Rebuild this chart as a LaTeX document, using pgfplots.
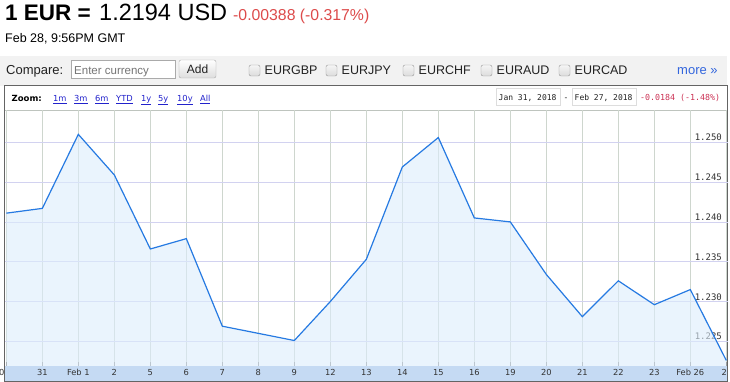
\documentclass[border=0pt]{standalone}
\usepackage{pgfplots}
\usepackage{pgfplotstable}
\pgfplotsset{compat=1.18}
\usepackage{fontspec}
\setmainfont{Liberation Sans}
\newfontfamily\dv{DejaVu Sans}
\newfontfamily\dvm{DejaVu Sans Mono}
\definecolor{redtxt}{RGB}{221,75,75}
\definecolor{crim}{RGB}{204,51,85}
\definecolor{linkblue}{RGB}{34,34,204}
\definecolor{moreblue}{RGB}{51,102,221}
\definecolor{barbg}{RGB}{242,242,242}
\definecolor{bandc}{RGB}{197,218,243}
\definecolor{fillc}{RGB}{220,237,252}
\definecolor{linec}{RGB}{38,122,226}
\definecolor{vgrid}{RGB}{206,214,206}
\definecolor{hgrid}{RGB}{210,210,240}
\definecolor{txt}{RGB}{34,34,34}
\pgfplotstableread{
x y
0 1.2411
1 1.2417
2 1.2510
3 1.2459
4 1.2366
5 1.2379
6 1.2269
7 1.2260
8 1.2251
9 1.2300
10 1.2353
11 1.2469
12 1.2506
13 1.2405
14 1.2400
15 1.2334
16 1.2281
17 1.2326
18 1.2296
19 1.2315
20 1.2226
}\eurusd
\begin{document}
\begin{tikzpicture}[x=1pt,y=1pt]
\useasboundingbox (0,0) rectangle (730,382);
\fill[white] (0,0) rectangle (730,382);
% header
\node[anchor=base west,inner sep=0,font=\fontsize{22.5}{22.5}\selectfont\bfseries] at (5,361) {1 EUR =};
\node[anchor=base west,inner sep=0,font=\fontsize{23.5}{23.5}\selectfont] at (99,361) {1.2194 USD};
\node[anchor=base west,inner sep=0,font=\fontsize{15.8}{15.8}\selectfont,text=redtxt] at (233,361) {-0.00388 (-0.317\%)};
\node[anchor=base west,inner sep=0,font=\fontsize{12.5}{12.5}\selectfont] at (5,339) {Feb 28, 9:56PM GMT};
% compare bar
\fill[barbg] (0,296) rectangle (727,326);
\node[anchor=base west,inner sep=0,font=\fontsize{13}{13}\selectfont,text=txt] at (6,307) {Compare:};
\draw[fill=white,draw={rgb,255:red,170;green,170;blue,170}] (71.5,303.5) rectangle (175,322);
\node[anchor=base west,inner sep=0,font=\fontsize{11.5}{11.5}\selectfont,text={rgb,255:red,117;green,117;blue,117}] at (74,307.5) {Enter currency};
\shade[top color=white,bottom color={rgb,255:red,221;green,221;blue,221},rounded corners=2pt] (179,304) rectangle (216,322);
\draw[draw={rgb,255:red,170;green,170;blue,170},rounded corners=2pt] (179,304) rectangle (216,322);
\node[anchor=base,inner sep=0,font=\fontsize{12}{12}\selectfont,text=txt] at (197.5,308) {Add};
\foreach \cx/\lab in {249/EURGBP,326/EURJPY,403/EURCHF,481/EURAUD,559/EURCAD}{
  \shade[top color={rgb,255:red,245;green,245;blue,245},bottom color={rgb,255:red,220;green,220;blue,220},rounded corners=2pt] (\cx,306) rectangle (\cx+11,317);
  \draw[draw={rgb,255:red,150;green,150;blue,150},rounded corners=2pt] (\cx,306) rectangle (\cx+11,317);
  \node[anchor=base west,inner sep=0,font=\fontsize{12.5}{12.5}\selectfont,text=txt] at (\cx+15.5,307.5) {\lab};
}
\node[anchor=base west,inner sep=0,font=\fontsize{13}{13}\selectfont,text=moreblue] at (677,307.5) {more »};
% frame
\draw[line width=1pt,draw={rgb,255:red,100;green,100;blue,100}] (4,0.5) rectangle (727.5,296);
% zoom bar
\node[anchor=base west,inner sep=0,font=\dv\bfseries\fontsize{8.5}{8.5}\selectfont,text=black] at (11.5,280.5) {Zoom:};
\foreach \zx/\zl in {53/1m,74/3m,95/6m,116/YTD,141/1y,158/5y,177/10y,200/All}{
  \node[anchor=base west,inner sep=0,font=\dv\fontsize{8.3}{8.3}\selectfont,text=linkblue] at (\zx,280.5) {\underline{\zl}};
}
\draw[draw={rgb,255:red,221;green,221;blue,221}] (496,277) rectangle (560,293.5);
\draw[draw={rgb,255:red,221;green,221;blue,221}] (572,277) rectangle (636,293.5);
\node[anchor=base west,inner sep=0,font=\dvm\fontsize{8}{8}\selectfont,text=txt] at (498.5,281) {Jan 31, 2018};
\node[anchor=base west,inner sep=0,font=\dvm\fontsize{8}{8}\selectfont,text=txt] at (563.5,281) {-};
\node[anchor=base west,inner sep=0,font=\dvm\fontsize{8}{8}\selectfont,text=txt] at (574.5,281) {Feb 27, 2018};
\node[anchor=base west,inner sep=0,font=\dvm\fontsize{8.3}{8.3}\selectfont,text=crim] at (640,281) {-0.0184 (-1.48\%)};
% band
\fill[bandc] (4.5,1) rectangle (727,16);
\draw[draw={rgb,255:red,190;green,196;blue,190}] (4.5,272) -- (727,272);
\begin{axis}[
  at={(4.9pt,16pt)}, anchor=south west,
  scale only axis, width=723.2pt, height=256pt,
  xmin=-0.04, xmax=20.05, ymin=1.2219, ymax=1.25406,
  axis line style={draw=none},
  xtick={0,...,20},
  xticklabels={\makebox[0pt]{\hspace*{-9pt}0},31,Feb 1,2,5,6,7,8,9,12,13,14,15,16,19,20,21,22,23,Feb 26,\makebox[0pt]{\hspace*{-4pt}2}},
  ytick={1.225,1.230,1.235,1.240,1.245,1.250},
  yticklabels={1.225,1.230,1.235,1.240,1.245,1.250},
  grid=major,
  x grid style={vgrid, line width=0.8pt},
  y grid style={hgrid, line width=0.8pt},
  tick align=inside, xtick pos=bottom, ytick pos=right,
  major tick length=4pt,
  xtick style={draw={rgb,255:red,140;green,140;blue,140}},
  ytick style={draw=none},
  yticklabel pos=right,
  xticklabel style={anchor=base, yshift=-10pt, inner sep=0pt, font=\dv\fontsize{8.3}{8.3}\selectfont, text={rgb,255:red,51;green,51;blue,51}},
  yticklabel style={anchor=south east, xshift=-5pt, inner sep=1pt, font=\dvm\fontsize{9}{9}\selectfont, text={rgb,255:red,51;green,51;blue,51}},
]
\addplot[draw=none, fill=fillc, fill opacity=0.6] table[x=x,y=y] {\eurusd} \closedcycle;
\addplot[linec, line width=1.2pt, mark=none] table[x=x,y=y] {\eurusd};
\end{axis}
\end{tikzpicture}
\end{document}
